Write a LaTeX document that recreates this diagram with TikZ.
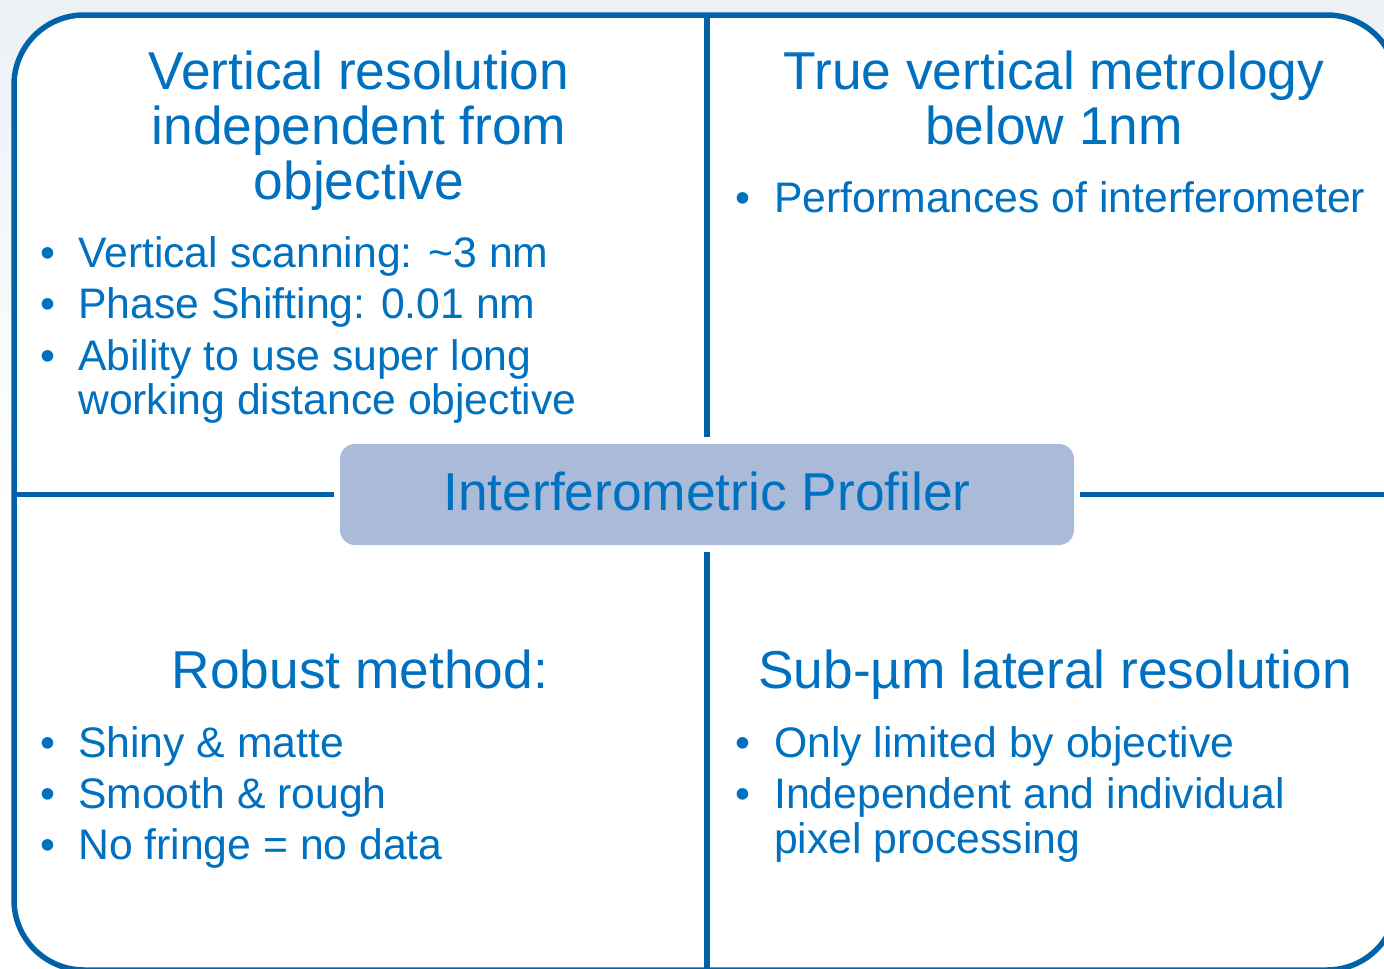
\documentclass[tikz,border=0pt]{standalone}
\usepackage{fontspec}
\setmainfont{Liberation Sans}
\definecolor{txtblue}{RGB}{0,112,192}
\definecolor{lineblue}{RGB}{0,99,168}
\definecolor{boxfill}{RGB}{169,187,217}
\definecolor{bgtop}{RGB}{236,241,246}
\begin{document}
\begin{tikzpicture}[x=1pt,y=-1pt,
  head/.style={text=txtblue,font=\fontsize{53.3}{55}\selectfont,anchor=base,inner sep=0pt},
  item/.style={text=txtblue,font=\fontsize{42.7}{44}\selectfont,anchor=base west,inner sep=0pt},
  bul/.style={text=txtblue,font=\fontsize{42.7}{44}\selectfont,anchor=base,inner sep=0pt},
  rule/.style={draw=lineblue,line width=5.5pt},
  corebox/.style={fill=boxfill,rounded corners=15pt,minimum width=734pt,minimum height=101pt,inner sep=0pt}]
\useasboundingbox (0,0) rectangle (1384,969);
\clip (0,0) rectangle (1384,969);
\shade[top color=bgtop,bottom color=white] (0,0) rectangle (1384,520);
\fill[white] (0,519) rectangle (1384,969);
% frame fill
\fill[white,rounded corners=70pt] (14,15) rectangle (1397,970);
% frame anchors
\coordinate (ftop) at (707,15);
\coordinate (fbot) at (707,970);
\coordinate (fleft) at (14,494.5);
\coordinate (fright) at (1397,494.5);
% centre box
\node[corebox] (core) at (707,494.5) {};
\node[text=txtblue,font=\fontsize{53.3}{55}\selectfont,anchor=base,inner sep=0pt] (coretext) at (707,510) {Interferometric Profiler};
% dividers
\draw[rule,shorten >=7pt] (ftop) -- (core.north);
\draw[rule,shorten >=7pt] (fbot) -- (core.south);
\draw[rule,shorten >=6pt] (fleft) -- (core.west);
\draw[rule,shorten >=6pt] (fright) -- (core.east);
% frame stroke
\draw[rule,rounded corners=70pt] (14,15) rectangle (1397,970);
% top left
\node[head] (tl1) at (359,89) {Vertical resolution};
\node[head] (tl2) at (359,144) {independent from};
\node[head] (tl3) at (359,199) {objective};
\node[bul] (tlb1) at (48,267) {•};
\node[item] (tli1) at (78,267) {Vertical scanning: {\char"7E}3 nm};
\node[bul] (tlb2) at (48,318) {•};
\node[item] (tli2) at (78,318) {Phase Shifting: 0.01 nm};
\node[bul] (tlb3) at (48,370) {•};
\node[item] (tli3) at (78,370) {Ability to use super long};
\node[item] (tli4) at (78,414) {working distance objective};
% top right
\node[head] (tr1) at (1054,89) {True vertical metrology};
\node[head] (tr2) at (1054,144) {below 1nm};
\node[bul] (trb1) at (743,212) {•};
\node[item] (tri1) at (774,212) {Performances of interferometer};
% bottom left
\node[head] (bl1) at (360,688) {Robust method:};
\node[bul] (blb1) at (48,757) {•};
\node[item] (bli1) at (78,757) {Shiny \& matte};
\node[bul] (blb2) at (48,808) {•};
\node[item] (bli2) at (78,808) {Smooth \& rough};
\node[bul] (blb3) at (48,859) {•};
\node[item] (bli3) at (78,859) {No fringe = no data};
% bottom right
\node[head] (br1) at (1055,688) {Sub-µm lateral resolution};
\node[bul] (brb1) at (743,757) {•};
\node[item] (bri1) at (774,757) {Only limited by objective};
\node[bul] (brb2) at (743,808) {•};
\node[item] (bri2) at (774,808) {Independent and individual};
\node[item] (bri3) at (774,853) {pixel processing};
\end{tikzpicture}
\end{document}
